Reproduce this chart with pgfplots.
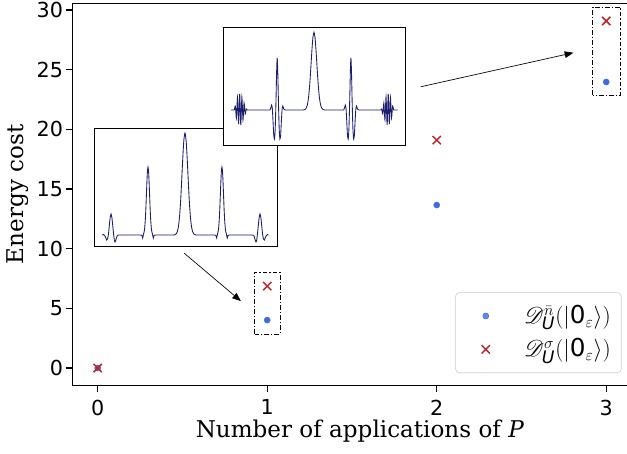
\documentclass[border=0pt]{standalone}
\usepackage{fontspec}
\setmainfont{DejaVu Sans}
\newfontfamily\seriffont{DejaVu Serif}
\usepackage{mathrsfs}
\usepackage{pgfplots}
\pgfplotsset{compat=1.18}
\usetikzlibrary{arrows.meta}
\definecolor{myblue}{RGB}{65,105,225}
\definecolor{myred}{RGB}{190,35,40}
\definecolor{wave}{RGB}{30,30,110}
\pgfplotsset{mylegimg/.style={legend image code/.code={\path[draw=none,fill=none] (0pt,0pt) -- (31.5pt,0pt); \draw[mark repeat=2,mark phase=2,##1] plot coordinates {(0pt,0pt)(15.75pt,0pt)(31.5pt,0pt)};}}}
\newcommand{\subU}{\hbox{\fontsize{12.95}{14}\selectfont\itshape U}}
\begin{document}
\fontsize{15.5}{18}\selectfont
\begin{tikzpicture}
\begin{axis}[
  name=main, at={(0pt,0pt)}, anchor=south west,
  scale only axis, width=419.5pt, height=286.5pt,
  xmin=-0.15, xmax=3.15, ymin=-1.455, ymax=30.555,
  xtick={0,1,2,3}, ytick={0,5,10,15,20,25,30},
  tick align=outside, tick pos=left, major tick length=4.9pt,
  axis line style={line width=1.1pt},
  every tick/.style={black, line width=0.9pt},
  /pgf/number format/assume math mode=true,
  xticklabel style={inner sep=0pt, anchor=north, yshift=-5.6pt},
  yticklabel style={inner sep=0pt, anchor=east, xshift=-1.85pt},
  xlabel={{\fontsize{17.3}{20}\seriffont Number of applications of \textit{P}}},
  ylabel={{\fontsize{17.3}{20}\seriffont Energy cost}},
  every axis x label/.style={at={(axis description cs:0.5,0)}, anchor=base, yshift=-38.7pt, xshift=6pt},
  every axis y label/.style={at={(axis description cs:-0.097,0.5)}, anchor=center, rotate=90},
  legend style={at={(0.982,0.0325)}, anchor=south east, draw=black!20, rounded corners=3pt,
    fill=white, fill opacity=0.8, text opacity=1, inner xsep=7pt, inner ysep=8.5pt,
    row sep=7pt, nodes={inner sep=1pt, anchor=west, font=\fontsize{18.5}{21}\selectfont},
    /tikz/every odd column/.append style={column sep=12pt}},
  legend cell align=left,
]
\addplot[only marks, mark=*, mark size=2.25pt, color=myblue, mark options={draw=myblue, fill=myblue}, mylegimg]
  coordinates {(0,0) (1,4.02) (2,13.66) (3,23.97)};
\addlegendentry{$\mathscr{D}_{\subU}^{\bar{n}}(|\mathrm{0}_{\varepsilon}\rangle)$}
\addplot[only marks, mark=x, mark size=4.4pt, color=myred, mark options={line width=1.1pt}, mylegimg]
  coordinates {(0,0) (1,6.87) (2,19.1) (3,29.08)};
\addlegendentry{$\mathscr{D}_{\subU}^{\sigma}(|\mathrm{0}_{\varepsilon}\rangle)$}
\draw[line width=0.6pt, dash pattern=on 3.5pt off 1.5pt on 1pt off 1.5pt] (axis cs:0.925,2.85) rectangle (axis cs:1.075,8.02);
\draw[line width=0.6pt, dash pattern=on 3.5pt off 1.5pt on 1pt off 1.5pt] (axis cs:2.92,22.88) rectangle (axis cs:3.085,30.23);
\draw[line width=0.5pt, -{Triangle[length=6.5pt,width=5pt]}] (axis cs:0.509,9.64) -- (axis cs:0.845,5.61);
\draw[line width=0.5pt, -{Triangle[length=6.5pt,width=5pt]}] (axis cs:1.906,23.57) -- (axis cs:2.806,26.42);
\end{axis}
% inset 1
\begin{axis}[at={(16.3pt,104.55pt)}, anchor=south west, scale only axis,
  width=137.25pt, height=88.5pt, xmin=0, xmax=1, ymin=0, ymax=118,
  ticks=none, axis line style={line width=0.6pt}, axis background/.style={fill=white}]
\addplot[wave, line width=0.65pt, smooth, tension=0.4] coordinates {
(0.044,11) (0.052,11.5) (0.058,10.5) (0.064,8.5) (0.069,6) (0.074,7) (0.079,12) (0.084,21) (0.088,28) (0.093,32) (0.098,28) (0.102,21) (0.107,12) (0.111,6) (0.115,4) (0.120,6.5) (0.126,10) (0.133,11)
(0.200,11) (0.255,11) (0.262,10.5) (0.266,8) (0.271,12.3) (0.274,14.2) (0.277,18.2) (0.280,25.3) (0.283,36.1) (0.286,49.8) (0.289,64.0) (0.292,74.9) (0.295,79) (0.298,74.9) (0.301,64.0) (0.304,49.8) (0.307,36.1) (0.310,25.3) (0.313,18.2) (0.316,14.2) (0.319,12.3) (0.324,8) (0.328,10.5) (0.335,11)
(0.400,11) (0.432,11) (0.441,11.2) (0.449,12.1) (0.455,14.3) (0.461,19.1) (0.467,28.6) (0.473,44.1) (0.479,65.2) (0.485,88.0) (0.491,106.1) (0.497,113) (0.503,106.1) (0.509,88.0) (0.515,65.2) (0.521,44.1) (0.527,28.6) (0.533,19.1) (0.539,14.3) (0.545,12.1) (0.553,11.2) (0.562,11)
(0.600,11) (0.659,11) (0.666,10.5) (0.670,8) (0.675,12.3) (0.678,14.2) (0.681,18.2) (0.684,25.3) (0.687,36.1) (0.690,49.8) (0.693,64.0) (0.696,74.9) (0.699,79) (0.702,74.9) (0.705,64.0) (0.708,49.8) (0.711,36.1) (0.714,25.3) (0.717,18.2) (0.720,14.2) (0.723,12.3) (0.728,8) (0.732,10.5) (0.739,11)
(0.800,11) (0.867,11) (0.874,10) (0.880,6.5) (0.885,4) (0.889,6) (0.893,12) (0.898,21) (0.902,28) (0.907,32) (0.912,28) (0.916,21) (0.921,12) (0.926,7) (0.931,6) (0.936,8.5) (0.942,10.5) (0.948,11.5) (0.953,11)
};
\end{axis}
% inset 2
\begin{axis}[at={(113.0pt,180.3pt)}, anchor=south west, scale only axis,
  width=136.5pt, height=88.5pt, xmin=0, xmax=1, ymin=0, ymax=118,
  ticks=none, axis line style={line width=0.6pt}, axis background/.style={fill=white}]
\addplot[wave, line width=0.65pt, smooth, tension=0.4] coordinates {
(0.044,35) (0.056,35) (0.062,35) (0.068,39) (0.074,27) (0.080,48) (0.086,21) (0.092,51) (0.098,20) (0.104,48) (0.110,25) (0.116,42) (0.122,31) (0.128,36) (0.134,35)
(0.200,35) (0.250,35) (0.258,35) (0.263,37) (0.267,40) (0.271,37) (0.275,24) (0.279,10) (0.283,6) (0.287,16) (0.291,42) (0.295,74) (0.298,87) (0.301,74) (0.305,42) (0.309,16) (0.313,6) (0.317,10) (0.321,24) (0.325,36) (0.329,39) (0.334,36) (0.342,35)
(0.400,35) (0.436,35) (0.444,35.1) (0.452,35.7) (0.458,37.1) (0.464,40.4) (0.470,47.2) (0.476,58.8) (0.482,74.9) (0.488,92.8) (0.494,107.2) (0.500,112.7) (0.506,107.2) (0.512,92.8) (0.518,74.9) (0.524,58.8) (0.530,47.2) (0.536,40.4) (0.542,37.1) (0.548,35.7) (0.556,35.1) (0.564,35)
(0.610,35) (0.655,35) (0.663,35) (0.668,37) (0.672,40) (0.676,37) (0.680,24) (0.684,10) (0.688,6) (0.692,16) (0.696,42) (0.700,74) (0.703,87) (0.706,74) (0.710,42) (0.714,16) (0.718,6) (0.722,10) (0.726,24) (0.730,36) (0.734,39) (0.739,36) (0.747,35)
(0.810,35) (0.866,35) (0.872,36) (0.878,31) (0.884,42) (0.890,25) (0.896,48) (0.902,20) (0.908,51) (0.914,21) (0.920,48) (0.926,27) (0.932,39) (0.938,35) (0.944,35) (0.960,35)
};
\end{axis}
\pgfresetboundingbox
\useasboundingbox (-54.2pt,-50.7pt) rectangle (416.0pt,289.05pt);
\end{tikzpicture}
\end{document}
